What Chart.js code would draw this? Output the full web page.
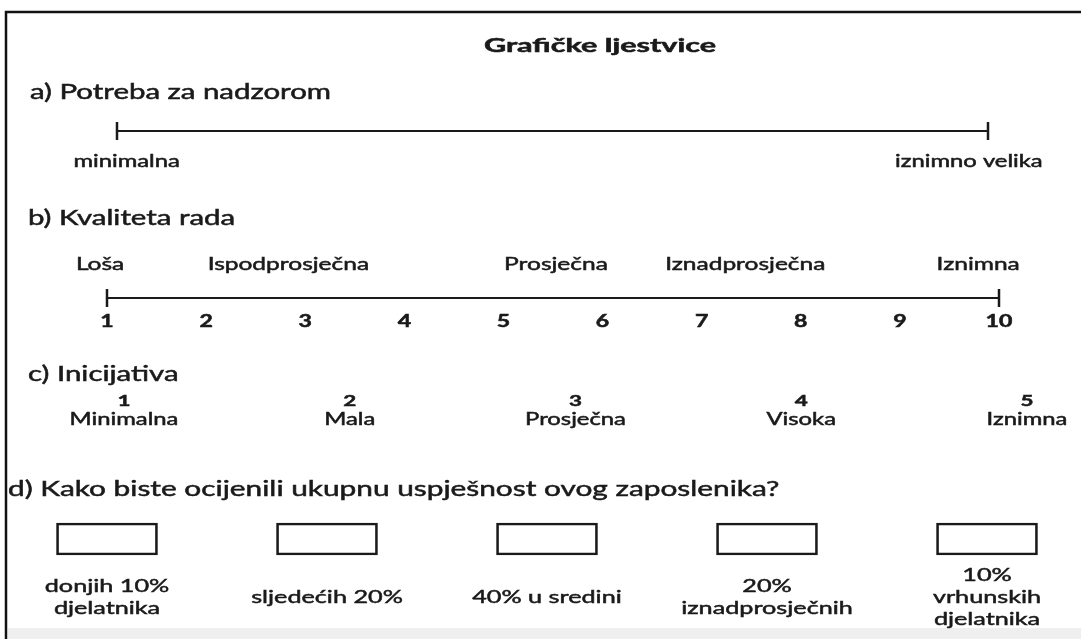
<!DOCTYPE html>
<html>
<head>
<meta charset="utf-8">
<script src="https://cdn.jsdelivr.net/npm/chart.js@4/dist/chart.umd.min.js"></script>
<style>
  html, body { margin: 0; background: #fff; }
  #wrap { width: 1081px; height: 639px; }
</style>
</head>
<body>
<div id="wrap"><canvas id="ljestvice"></canvas></div>
<script>
// --- podaci ---
const naslov = 'Grafičke ljestvice';

const nadzorNaslov = 'a) Potreba za nadzorom';
const nadzorKrajevi = [0, 1];
const nadzorOznake = ['minimalna', 'iznimno velika'];
const nadzorSidra = [0.011, 0.978];

const kvalitetaNaslov = 'b) Kvaliteta rada';
const kvalitetaOcjene = [1, 2, 3, 4, 5, 6, 7, 8, 9, 10];
const kvalitetaOznake = ['Loša', 'Ispodprosječna', 'Prosječna', 'Iznadprosječna', 'Iznimna'];
const kvalitetaSidra = [0.93, 2.83, 5.53, 7.44, 9.79];

const inicijativaNaslov = 'c) Inicijativa';
const inicijativaOcjene = [1, 2, 3, 4, 5];
const inicijativaOznake = ['Minimalna', 'Mala', 'Prosječna', 'Visoka', 'Iznimna'];

const ukupnoPitanje = 'd) Kako biste ocijenili ukupnu uspješnost ovog zaposlenika?';
const ukupnoKategorije = [0, 1, 2, 3, 4];
const ukupnoOznake = [
  ['donjih 10%', 'djelatnika'],
  ['sljedećih 20%'],
  ['40% u sredini'],
  ['20%', 'iznadprosječnih'],
  ['10%', 'vrhunskih', 'djelatnika']
];

// --- raspored ---
const W = 1081, H = 639;
const FONT = 'Lato, "Open Sans", sans-serif';
const INK = '#1a1a1a';
const SX = 1.4; // sken je vodoravno razvučen

const rows = {
  title: 46, aHead: 92, aLine: 131, aLab: 162,
  bHead: 218, bLab: 264, bLine: 298, bNum: 322,
  cHead: 374, cNum: 401, cLab: 420,
  dHead: 489, boxTop: 523, boxBot: 555, dLab: 597, dLine: 22
};

// vrijednost v0 na pikselu p0, v1 na p1 -> min/max preko cijele širine
function span(v0, p0, v1, p1) {
  const k = (v1 - v0) / (p1 - p0);
  return { min: v0 - p0 * k, max: v1 + (W - p1) * k, offset: false };
}

function txt(ctx, s, x, y, size, align, weight, sx) {
  ctx.save();
  ctx.font = (weight || 'normal') + ' ' + size + 'px ' + FONT;
  ctx.fillStyle = INK;
  ctx.strokeStyle = INK;
  ctx.lineWidth = 0.5;
  ctx.textAlign = align || 'center';
  ctx.textBaseline = 'middle';
  ctx.translate(x, y);
  ctx.scale(sx || SX, 1);
  ctx.fillText(s, 0, 0);
  ctx.strokeText(s, 0, 0);
  ctx.restore();
}

const crtez = {
  id: 'crtez',
  beforeDraw(chart) {
    const ctx = chart.ctx;
    ctx.save();
    ctx.fillStyle = '#efefef';
    ctx.fillRect(8, 628, W, H - 628);
    ctx.strokeStyle = '#111';
    ctx.lineWidth = 2.5;
    ctx.beginPath();
    ctx.moveTo(6, H);
    ctx.lineTo(6, 12);
    ctx.lineTo(W, 12);
    ctx.stroke();
    ctx.restore();
  },
  afterDatasetsDraw(chart) {
    const ctx = chart.ctx;
    const s = chart.scales;
    txt(ctx, naslov, 600, rows.title, 18, 'center', 'bold', 1.7);

    txt(ctx, nadzorNaslov, 30, rows.aHead, 21, 'left');
    nadzorOznake.forEach((t, i) => txt(ctx, t, s.xa.getPixelForValue(nadzorSidra[i]), rows.aLab, 17));

    txt(ctx, kvalitetaNaslov, 28, rows.bHead, 21, 'left');
    kvalitetaOznake.forEach((t, i) => txt(ctx, t, s.xb.getPixelForValue(kvalitetaSidra[i]), rows.bLab, 17.5));
    kvalitetaOcjene.forEach(v => txt(ctx, String(v), s.xb.getPixelForValue(v), rows.bNum, 16.5, 'center', 'bold'));

    txt(ctx, inicijativaNaslov, 28, rows.cHead, 21, 'left');
    inicijativaOcjene.forEach((v, i) => {
      const x = s.xc.getPixelForValue(v);
      txt(ctx, String(v), x, rows.cNum, 16, 'center', 'bold');
      txt(ctx, inicijativaOznake[i], x, rows.cLab, 17);
    });

    txt(ctx, ukupnoPitanje, 8, rows.dHead, 21.3, 'left');
    ukupnoKategorije.forEach((v, i) => {
      const x = s.xd.getPixelForValue(v);
      const lines = ukupnoOznake[i];
      const y0 = rows.dLab - (lines.length - 1) * rows.dLine / 2;
      lines.forEach((t, j) => txt(ctx, t, x, y0 + j * rows.dLine, 18));
    });
  }
};

const ljestvica = {
  type: 'scatter',
  showLine: true,
  borderColor: INK,
  borderWidth: 2,
  pointStyle: 'line',
  pointRotation: 90,
  pointRadius: 9,
  pointBorderWidth: 2.5,
  pointBorderColor: INK
};

new Chart(document.getElementById('ljestvice'), {
  type: 'scatter',
  data: {
    datasets: [
      Object.assign({}, ljestvica, {
        xAxisID: 'xa',
        data: nadzorKrajevi.map(v => ({ x: v, y: rows.aLine }))
      }),
      Object.assign({}, ljestvica, {
        xAxisID: 'xb',
        data: [kvalitetaOcjene[0], kvalitetaOcjene[kvalitetaOcjene.length - 1]].map(v => ({ x: v, y: rows.bLine }))
      }),
      {
        type: 'bar',
        xAxisID: 'xd',
        data: ukupnoKategorije.map(v => ({ x: v, y: [rows.boxTop, rows.boxBot] })),
        grouped: false,
        barThickness: 101,
        backgroundColor: 'rgba(0,0,0,0)',
        borderColor: INK,
        borderWidth: 2,
        borderSkipped: false
      }
    ]
  },
  options: {
    responsive: true,
    maintainAspectRatio: false,
    animation: false,
    events: [],
    layout: { padding: 0, autoPadding: false },
    plugins: { legend: { display: false }, tooltip: { enabled: false } },
    scales: {
      xa: Object.assign({ type: 'linear', display: false }, span(0, 117, 1, 988)),
      xb: Object.assign({ type: 'linear', display: false }, span(1, 107, 10, 999)),
      xc: Object.assign({ type: 'linear', display: false }, span(1, 124, 5, 1027)),
      xd: Object.assign({ type: 'linear', display: false }, span(0, 107, 4, 987)),
      y: { type: 'linear', display: false, reverse: true, min: 0, max: H }
    }
  },
  plugins: [crtez]
});
</script>
</body>
</html>
